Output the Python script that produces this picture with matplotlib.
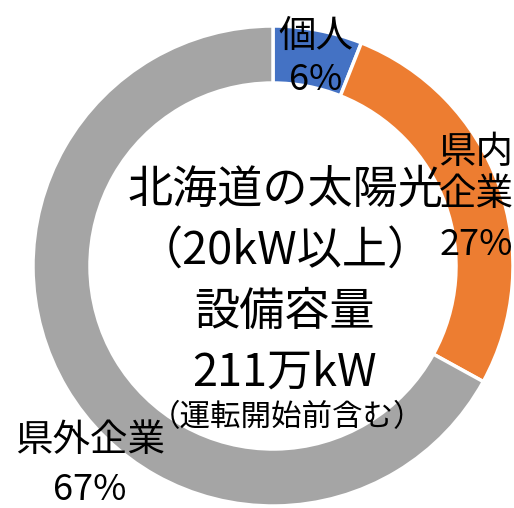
import matplotlib
matplotlib.use("Agg")
from matplotlib import pyplot as plt

plt.rcParams['font.family'] = ['Noto Sans CJK JP', 'DejaVu Sans']

# share of installed capacity by owner type
labels = ["個人", "県内\n企業", "県外企業"]
shares = [6, 27, 67]
colors = ["#4472C4", "#ED7D31", "#A5A5A5"]

center_lines = ["北海道の太陽光", "（20kW以上）", "設備容量", "211万kW"]
note = "（運転開始前含む）"

W, H = 514, 508
fig = plt.figure(figsize=(W/100, H/100), dpi=100)
ax = fig.add_axes([0, 0, 1, 1])

cx, cy = 273, H-266  # donut centre in pixel space
ax.pie(shares, colors=colors, startangle=90, counterclock=False,
       radius=240, center=(cx, cy), frame=True,
       wedgeprops=dict(width=57, edgecolor='white', linewidth=2.5))
ax.set_xlim(0, W)
ax.set_ylim(0, H)
ax.set_aspect('equal')
ax.axis('off')

def txt(x, y, s, size):
  ax.text(x, H-y, s, ha='center', va='center', fontsize=size, color='black',
          linespacing=1.1)

# slice labels
txt(316, 36, labels[0], 27)
txt(316, 80, f"{shares[0]}%", 26)
txt(476, 174, labels[1], 27)
txt(476, 245, f"{shares[1]}%", 26)
txt(90, 440, labels[2], 27)
txt(90, 490, f"{shares[2]}%", 26)

# centre caption
for i, line in enumerate(center_lines):
  txt(285, 190+61*i, line, 32.5)
txt(287, 418, note, 22)

fig.savefig('out.png', dpi=100)
